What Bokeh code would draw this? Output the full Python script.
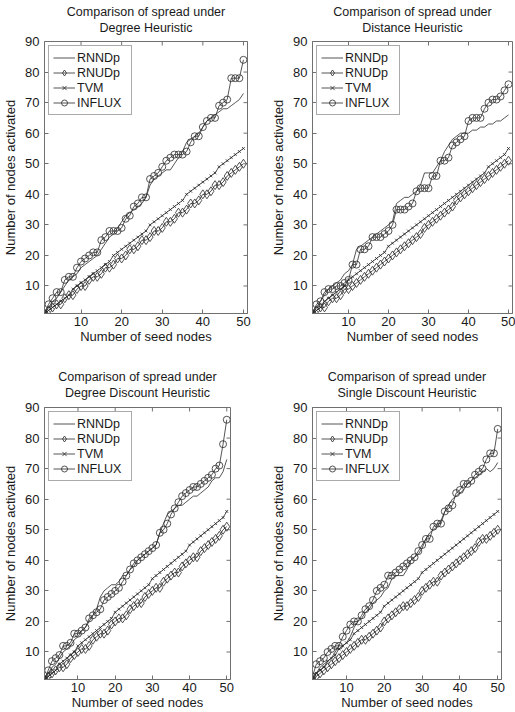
import math
from bokeh.plotting import figure
from bokeh.models import Range1d, FixedTicker
from bokeh.layouts import row, column
from bokeh.embed import file_html
from bokeh.resources import INLINE

seeds = list(range(1, 51))
x_ticks = [10, 20, 30, 40, 50]
y_ticks = [10, 20, 30, 40, 50, 60, 70, 80, 90]
x_lim = (1, 51)
y_lim = (1, 90)
series_names = ["RNNDp", "RNUDp", "TVM", "INFLUX"]

titles = [
    "Comparison of spread under\nDegree Heuristic",
    "Comparison of spread under\nDistance Heuristic",
    "Comparison of spread under\nDegree Discount Heuristic",
    "Comparison of spread under\nSingle Discount Heuristic",
]

# Degree Heuristic
tl_rnndp = [1, 3, 5, 6, 8, 10, 12, 13, 14, 16,
            17, 18, 19, 20, 22, 24, 26, 27, 29, 31,
            33, 34, 35, 36, 37, 39, 43, 45, 46, 47,
            48, 48, 50, 52, 54, 57, 58, 59, 60, 62,
            64, 65, 66, 67, 68, 68, 69, 70, 71, 73]
tl_rnudp = [1, 2, 3, 4, 4, 6, 7, 7, 9, 10,
            10, 12, 13, 13, 14, 16, 16, 17, 19, 19,
            20, 22, 22, 23, 25, 25, 26, 28, 28, 29,
            31, 31, 32, 34, 34, 35, 37, 37, 38, 40,
            40, 41, 43, 43, 44, 46, 47, 48, 49, 50]
tl_tvm = [1, 2, 3, 4, 5, 6, 7, 9, 10, 11,
          12, 13, 14, 15, 16, 17, 18, 20, 21, 22,
          23, 24, 25, 26, 27, 28, 30, 31, 32, 33,
          34, 35, 36, 37, 38, 40, 41, 42, 43, 44,
          45, 46, 47, 49, 50, 51, 52, 53, 54, 55]
tl_influx = [1, 4, 6, 8, 8, 12, 13, 13, 16, 18,
             19, 20, 21, 21, 25, 26, 28, 28, 28, 29,
             32, 33, 36, 37, 39, 39, 45, 46, 47, 49,
             51, 52, 53, 53, 53, 54, 57, 59, 59, 62,
             64, 65, 65, 69, 70, 71, 78, 78, 78, 84]

# Distance Heuristic
tr_rnndp = [1, 3, 5, 7, 9, 10, 11, 12, 14, 15,
            17, 22, 23, 24, 25, 26, 27, 28, 29, 30,
            31, 37, 38, 39, 39, 40, 41, 43, 47, 47,
            47, 49, 51, 54, 56, 58, 59, 60, 60, 60,
            61, 61, 62, 62, 63, 63, 64, 64, 65, 66]
tr_rnudp = [1, 2, 3, 3, 5, 6, 6, 7, 9, 9,
            10, 11, 12, 13, 14, 15, 16, 17, 18, 19,
            20, 21, 22, 23, 24, 25, 26, 27, 29, 30,
            31, 32, 33, 34, 35, 36, 38, 39, 40, 41,
            42, 43, 44, 45, 46, 47, 48, 49, 50, 51]
tr_tvm = [1, 2, 3, 5, 6, 7, 8, 9, 10, 12,
          13, 14, 15, 16, 17, 18, 19, 20, 21, 23,
          24, 25, 26, 27, 28, 29, 30, 31, 32, 33,
          34, 35, 36, 37, 38, 39, 40, 41, 42, 43,
          44, 45, 46, 47, 49, 50, 51, 52, 53, 55]
tr_influx = [1, 4, 5, 8, 9, 9, 10, 10, 11, 12,
             17, 17, 22, 22, 23, 26, 26, 26, 27, 28,
             30, 35, 35, 35, 36, 37, 41, 42, 42, 42,
             46, 46, 51, 51, 52, 56, 57, 58, 59, 64,
             65, 65, 65, 68, 70, 71, 71, 72, 74, 76]

# Degree Discount Heuristic
bl_rnndp = [1, 3, 5, 6, 8, 10, 11, 12, 14, 15,
            17, 18, 20, 22, 24, 28, 30, 31, 32, 32,
            33, 35, 35, 37, 38, 40, 41, 42, 43, 44,
            45, 49, 52, 55, 56, 57, 58, 58, 59, 60,
            61, 61, 62, 63, 64, 66, 67, 67, 69, 73]
bl_rnudp = [1, 2, 3, 4, 5, 5, 6, 8, 9, 10,
            11, 11, 12, 14, 15, 16, 16, 17, 19, 20,
            21, 21, 22, 24, 25, 26, 26, 28, 29, 30,
            31, 31, 33, 34, 35, 36, 36, 38, 39, 40,
            41, 41, 43, 44, 45, 46, 47, 48, 50, 51]
bl_tvm = [1, 2, 3, 4, 6, 7, 8, 9, 10, 12,
          13, 14, 15, 16, 17, 18, 19, 20, 21, 23,
          24, 25, 26, 27, 28, 29, 30, 31, 32, 34,
          35, 36, 37, 38, 39, 40, 41, 42, 43, 45,
          46, 47, 48, 49, 50, 51, 52, 53, 54, 56]
bl_influx = [1, 4, 7, 8, 9, 12, 12, 13, 16, 16,
             17, 18, 21, 22, 23, 24, 27, 28, 29, 30,
             31, 33, 35, 37, 39, 40, 41, 42, 43, 44,
             45, 49, 50, 52, 55, 57, 59, 61, 62, 63,
             64, 64, 65, 66, 67, 68, 70, 71, 78, 86]

# Single Discount Heuristic
br_rnndp = [1, 3, 5, 6, 7, 8, 10, 12, 12, 13,
            15, 18, 20, 21, 23, 24, 26, 27, 28, 30,
            31, 34, 35, 35, 35, 37, 40, 41, 42, 44,
            47, 49, 50, 51, 53, 56, 58, 60, 61, 62,
            63, 65, 66, 67, 68, 69, 70, 69, 70, 72]
br_rnudp = [1, 2, 3, 4, 5, 6, 7, 8, 9, 10,
            11, 12, 13, 14, 14, 15, 16, 17, 18, 20,
            21, 22, 23, 24, 25, 25, 26, 27, 28, 30,
            31, 32, 33, 33, 35, 36, 37, 38, 39, 40,
            41, 42, 43, 44, 46, 47, 47, 48, 49, 50]
br_tvm = [1, 3, 4, 5, 7, 8, 9, 11, 12, 13,
          14, 16, 17, 18, 19, 20, 21, 22, 23, 25,
          26, 27, 28, 29, 30, 31, 32, 33, 34, 36,
          37, 38, 39, 40, 41, 42, 43, 44, 45, 46,
          47, 48, 49, 50, 51, 52, 53, 54, 55, 56]
br_influx = [2, 6, 7, 8, 10, 11, 12, 12, 15, 17,
             19, 20, 20, 22, 24, 25, 27, 30, 31, 32,
             35, 35, 36, 37, 38, 39, 40, 41, 43, 45,
             47, 47, 51, 52, 52, 56, 57, 58, 62, 63,
             65, 65, 66, 68, 69, 70, 73, 75, 75, 83]

FONT = "Liberation Sans"
LINE = "#2a2a2a"
AXC = "#707070"
TXT = "#1a1a1a"


def style_axis(ax):
    ax.major_tick_in = 4
    ax.major_tick_out = 0
    ax.minor_tick_line_color = None
    ax.axis_line_color = AXC
    ax.major_tick_line_color = AXC
    ax.major_label_text_font = FONT
    ax.major_label_text_color = TXT
    ax.major_label_text_font_size = "13px"
    ax.axis_label_text_font = FONT
    ax.axis_label_text_font_style = "normal"
    ax.axis_label_text_font_size = "13px"
    ax.axis_label_text_color = TXT


def make_panel(title, rnndp, rnudp, tvm, influx, w, h, bl, br, bt, bb, t_standoff):
    p = figure(width=w, height=h, output_backend="svg", toolbar_location=None,
               title=title,
               x_range=Range1d(*x_lim), y_range=Range1d(*y_lim),
               min_border_left=bl, min_border_right=br,
               min_border_top=bt, min_border_bottom=bb)
    t = p.title
    t.align = "center"
    t.vertical_align = "top"
    try:
        t.text_align = "center"
    except Exception:
        pass
    t.text_font = FONT
    t.text_font_size = "12.5px"
    t.text_font_style = "normal"
    t.text_color = TXT
    t.text_line_height = 1.15
    t.standoff = t_standoff

    p.xgrid.visible = False
    p.ygrid.visible = False
    p.outline_line_color = AXC
    p.background_fill_color = "white"

    p.xaxis.ticker = FixedTicker(ticks=x_ticks)
    p.yaxis.ticker = FixedTicker(ticks=y_ticks)
    p.xaxis.axis_label = "Number of seed nodes"
    p.yaxis.axis_label = "Number of nodes activated"
    style_axis(p.xaxis[0])
    style_axis(p.yaxis[0])
    p.xaxis.major_label_standoff = 3
    p.xaxis.axis_label_standoff = 0
    p.yaxis.major_label_standoff = 5
    p.yaxis.axis_label_standoff = 4

    # inward tick marks on the top and right sides of the box
    p.scatter(x_ticks, [y_lim[1]] * len(x_ticks), marker="dash", angle=math.pi / 2,
              size=8, line_color=AXC, line_width=1)
    p.scatter([x_lim[1]] * len(y_ticks), y_ticks, marker="dash", angle=0,
              size=8, line_color=AXC, line_width=1)

    lw = 0.8
    p.line(seeds, rnndp, line_color=LINE, line_width=lw, legend_label=series_names[0])
    p.line(seeds, rnudp, line_color=LINE, line_width=lw, legend_label=series_names[1])
    p.scatter(seeds, rnudp, marker="diamond", size=9, fill_color=None,
              line_color=LINE, line_width=lw, legend_label=series_names[1])
    p.line(seeds, tvm, line_color=LINE, line_width=lw, legend_label=series_names[2])
    p.scatter(seeds, tvm, marker="x", size=4, line_color=LINE, line_width=lw,
              legend_label=series_names[2])
    p.line(seeds, influx, line_color=LINE, line_width=lw, legend_label=series_names[3])
    p.scatter(seeds, influx, marker="circle", size=7, fill_color=None,
              line_color=LINE, line_width=lw, legend_label=series_names[3])

    lg = p.legend[0]
    lg.location = "top_left"
    lg.margin = 4
    lg.padding = 4
    lg.spacing = 0
    lg.glyph_width = 22
    lg.glyph_height = 15
    lg.label_height = 15
    lg.label_width = 50
    lg.label_standoff = 2
    lg.label_text_font = FONT
    lg.label_text_font_size = "12.5px"
    lg.label_text_color = TXT
    lg.border_line_color = "#555555"
    lg.border_line_width = 1
    lg.background_fill_alpha = 1.0
    return p


p1 = make_panel(titles[0], tl_rnndp, tl_rnudp, tl_tvm, tl_influx, 268, 356, 42, 21, 41, 43, 9)
p2 = make_panel(titles[1], tr_rnndp, tr_rnudp, tr_tvm, tr_influx, 247, 356, 40, 3, 41, 43, 9)
p3 = make_panel(titles[2], bl_rnndp, bl_rnudp, bl_tvm, bl_influx, 268, 356, 42, 38, 51, 33, 12)
p4 = make_panel(titles[3], br_rnndp, br_rnudp, br_tvm, br_influx, 247, 356, 42, 14, 51, 33, 12)

root = column(row(p1, p2), row(p3, p4))

open("out.html", "w").write(file_html(root, INLINE))
